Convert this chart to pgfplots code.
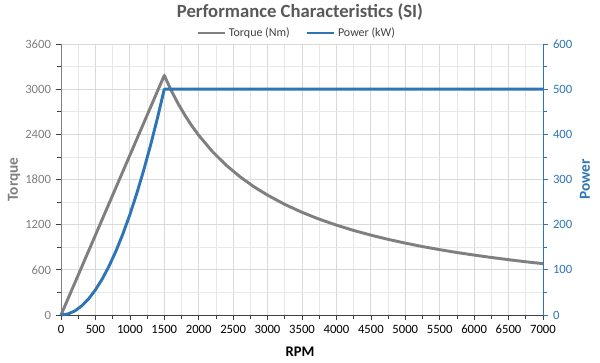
\documentclass[border=0pt]{standalone}
\usepackage{fontspec}
\setmainfont{Carlito}
\usepackage{pgfplots}
\pgfplotsset{compat=1.18}
\definecolor{tq}{HTML}{7F7F7F}
\definecolor{pw}{HTML}{2E75B6}
\definecolor{gmaj}{HTML}{D9D9D9}
\definecolor{gmin}{HTML}{E8E8E8}
\definecolor{txt}{HTML}{404040}
\definecolor{ttl}{HTML}{595959}
\begin{document}
\begin{tikzpicture}
\useasboundingbox (-45.75pt,-36pt) rectangle (404.25pt,236.25pt);
\begin{axis}[
  at={(0,0)}, anchor=origin,
  scale only axis, width=361.5pt, height=203.25pt,
  xmin=0, xmax=7000, ymin=0, ymax=3600,
  axis x line*=bottom, axis y line*=left,
  x axis line style={color=txt, line width=0.6pt, -},
  y axis line style={color=tq, line width=0.6pt, -},
  xtick={0,500,...,7000}, ytick={0,600,...,3600},
  minor x tick num=1, minor y tick num=1,
  tick align=outside, major tick length=4pt, minor tick length=3pt,
  every tick/.style={color=txt, line width=0.5pt},
  grid=both,
  major grid style={color=gmaj, line width=0.6pt},
  minor grid style={color=gmin, line width=0.5pt},
  /pgf/number format/1000 sep={},
  /pgf/number format/assume math mode=true,
  xticklabel style={font=\fontsize{9.5}{11}\selectfont, color=black},
  yticklabel style={font=\fontsize{9.5}{11}\selectfont, color=tq},
  clip=false,
]
\addplot[color=tq, line width=2.2pt, line join=round] coordinates {
(0,0) (1500,3183) (1600,2984) (1700,2809) (1800,2653) (1900,2513) (2000,2387)
(2200,2170) (2400,1989) (2600,1836) (2800,1705) (3000,1592) (3250,1469)
(3500,1364) (3750,1273) (4000,1194) (4250,1123) (4500,1061) (4750,1005)
(5000,955) (5250,909) (5500,868) (5750,830) (6000,796) (6250,764) (6500,735)
(6750,707) (7000,682)};
\end{axis}
\begin{axis}[
  at={(0,0)}, anchor=origin,
  scale only axis, width=361.5pt, height=203.25pt,
  xmin=0, xmax=7000, ymin=0, ymax=600,
  axis x line=none, axis y line*=right,
  y axis line style={color=pw, line width=0.6pt, -},
  ytick={0,100,...,600}, minor y tick num=1,
  tick align=outside, major tick length=4pt, minor tick length=3pt,
  every tick/.style={color=pw, line width=0.5pt},
  /pgf/number format/1000 sep={},
  /pgf/number format/assume math mode=true,
  yticklabel style={font=\fontsize{9.5}{11}\selectfont, color=pw},
  legend style={draw=none, fill=none, at={(0.49,1.0)}, anchor=south,
    font=\fontsize{9}{10}\selectfont, text=txt, /tikz/every even column/.append style={column sep=10pt}},
  legend columns=2,
  legend image code/.code={\draw[#1, line width=2.2pt] (0cm,0cm) -- (0.7cm,0cm);},
  clip=false,
]
\addlegendimage{color=tq}
\addlegendentry{Torque (Nm)}
\addplot[color=pw, line width=2.2pt, line join=round] coordinates {
(0,0) (100,2.22) (200,8.89) (300,20) (400,35.56) (500,55.56) (600,80)
(700,108.89) (800,142.22) (900,180) (1000,222.22) (1100,268.89) (1200,320)
(1300,375.56) (1400,435.56) (1500,500) (7000,500)};
\addlegendentry{Power (kW)}
\end{axis}
\node[font=\bfseries\fontsize{14}{16}\selectfont, text=ttl] at (179.25pt,227.25pt) {Performance Characteristics (SI)};
\node[font=\bfseries\fontsize{11.5}{13}\selectfont, text=tq, rotate=90] at (-35.25pt,101.6pt) {Torque};
\node[font=\bfseries\fontsize{11.5}{13}\selectfont, text=pw, rotate=90] at (393pt,101.6pt) {Power};
\node[font=\bfseries\fontsize{11}{12}\selectfont, text=black] at (179.25pt,-27.75pt) {RPM};
\end{tikzpicture}
\end{document}
